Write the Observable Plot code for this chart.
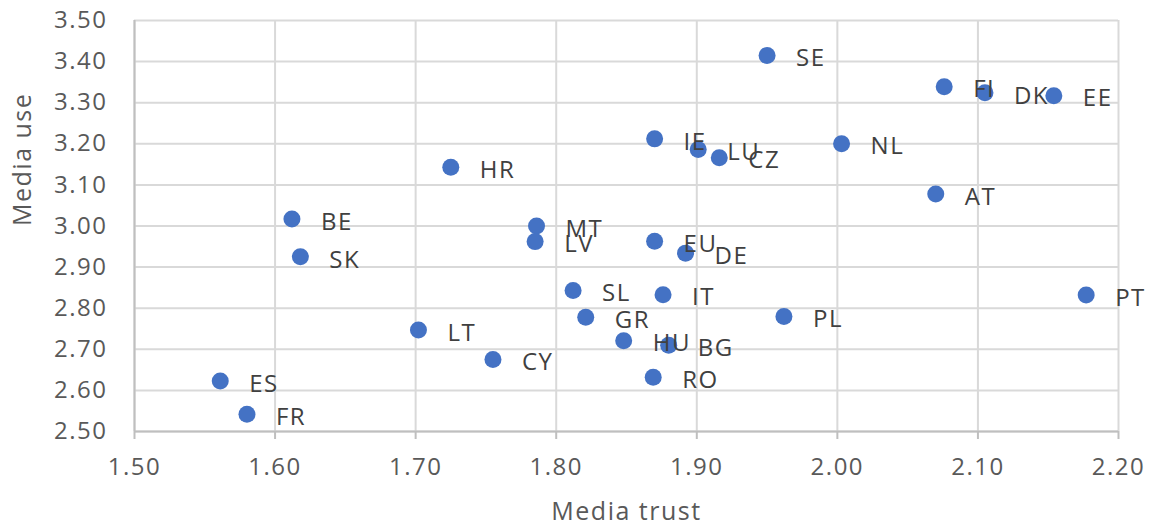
<!DOCTYPE html>
<html>
<head>
<meta charset="utf-8">
<script src="https://cdn.jsdelivr.net/npm/d3@7"></script>
<script src="https://cdn.jsdelivr.net/npm/@observablehq/plot@0.6"></script>
<style>
  html, body { margin: 0; padding: 0; background: #fff; }
  #chart svg { display: block; }
  #chart svg text { letter-spacing: 1.5px; }
</style>
</head>
<body>
<div id="chart"></div>
<script>
const countries = ["SE","FI","DK","EE","IE","LU","CZ","NL","HR","AT","BE","MT","LV","EU","DE","SK","SL","IT","PT","GR","PL","LT","HU","BG","CY","RO","ES","FR"];
const mediaTrust = [1.950,2.076,2.105,2.154,1.870,1.901,1.916,2.003,1.725,2.070,1.612,1.786,1.785,1.870,1.892,1.618,1.812,1.876,2.177,1.821,1.962,1.702,1.848,1.880,1.755,1.869,1.561,1.580];
const mediaUse   = [3.415,3.339,3.324,3.317,3.212,3.186,3.166,3.200,3.143,3.078,3.017,3.000,2.962,2.963,2.934,2.925,2.843,2.833,2.832,2.778,2.780,2.747,2.721,2.710,2.675,2.632,2.623,2.542];
const xTicks = [1.5,1.6,1.7,1.8,1.9,2.0,2.1,2.2];
const yTicks = [2.5,2.6,2.7,2.8,2.9,3.0,3.1,3.2,3.3,3.4,3.5];

const data = countries.map((c, i) => ({country: c, trust: mediaTrust[i], use: mediaUse[i]}));
const font = "'Open Sans', 'Noto Sans', sans-serif";

const chart = Plot.plot({
  width: 1158,
  height: 527,
  marginLeft: 134,
  marginRight: 40,
  marginTop: 20,
  marginBottom: 96,
  style: {fontFamily: font, fontSize: "24px", color: "#595959", background: "#fff"},
  x: {domain: [1.5, 2.2]},
  y: {domain: [2.5, 3.5]},
  marks: [
    Plot.gridX(xTicks, {stroke: "#d9d9d9", strokeOpacity: 1, strokeWidth: 2}),
    Plot.gridY(yTicks, {stroke: "#d9d9d9", strokeOpacity: 1, strokeWidth: 2}),
    Plot.ruleX([1.5], {stroke: "#bfbfbf", strokeWidth: 2}),
    Plot.ruleY([2.5], {stroke: "#bfbfbf", strokeWidth: 2}),
    Plot.axisX(xTicks, {tickFormat: d3.format(".2f"), tickSize: 8, tickPadding: 18, stroke: "#bfbfbf", strokeWidth: 2, fill: "#595959", fontSize: 24, label: null}),
    Plot.axisY(yTicks, {tickFormat: d3.format(".2f"), tickSize: 0, tickPadding: 27, fill: "#595959", fontSize: 24, label: null}),
    Plot.text(["Media trust"], {frameAnchor: "bottom", dy: 88, fill: "#595959", fontSize: 25}),
    Plot.text(["Media use"], {frameAnchor: "left", dx: -112, rotate: -90, fill: "#595959", fontSize: 25}),
    Plot.dot(data, {x: "trust", y: "use", r: 8.5, fill: "#4472C4", stroke: "none"}),
    Plot.text(data, {x: "trust", y: "use", text: "country", textAnchor: "start", dx: 29, dy: 3, fill: "#404040", fontSize: 24})
  ]
});
document.getElementById("chart").append(chart);
</script>
</body>
</html>
